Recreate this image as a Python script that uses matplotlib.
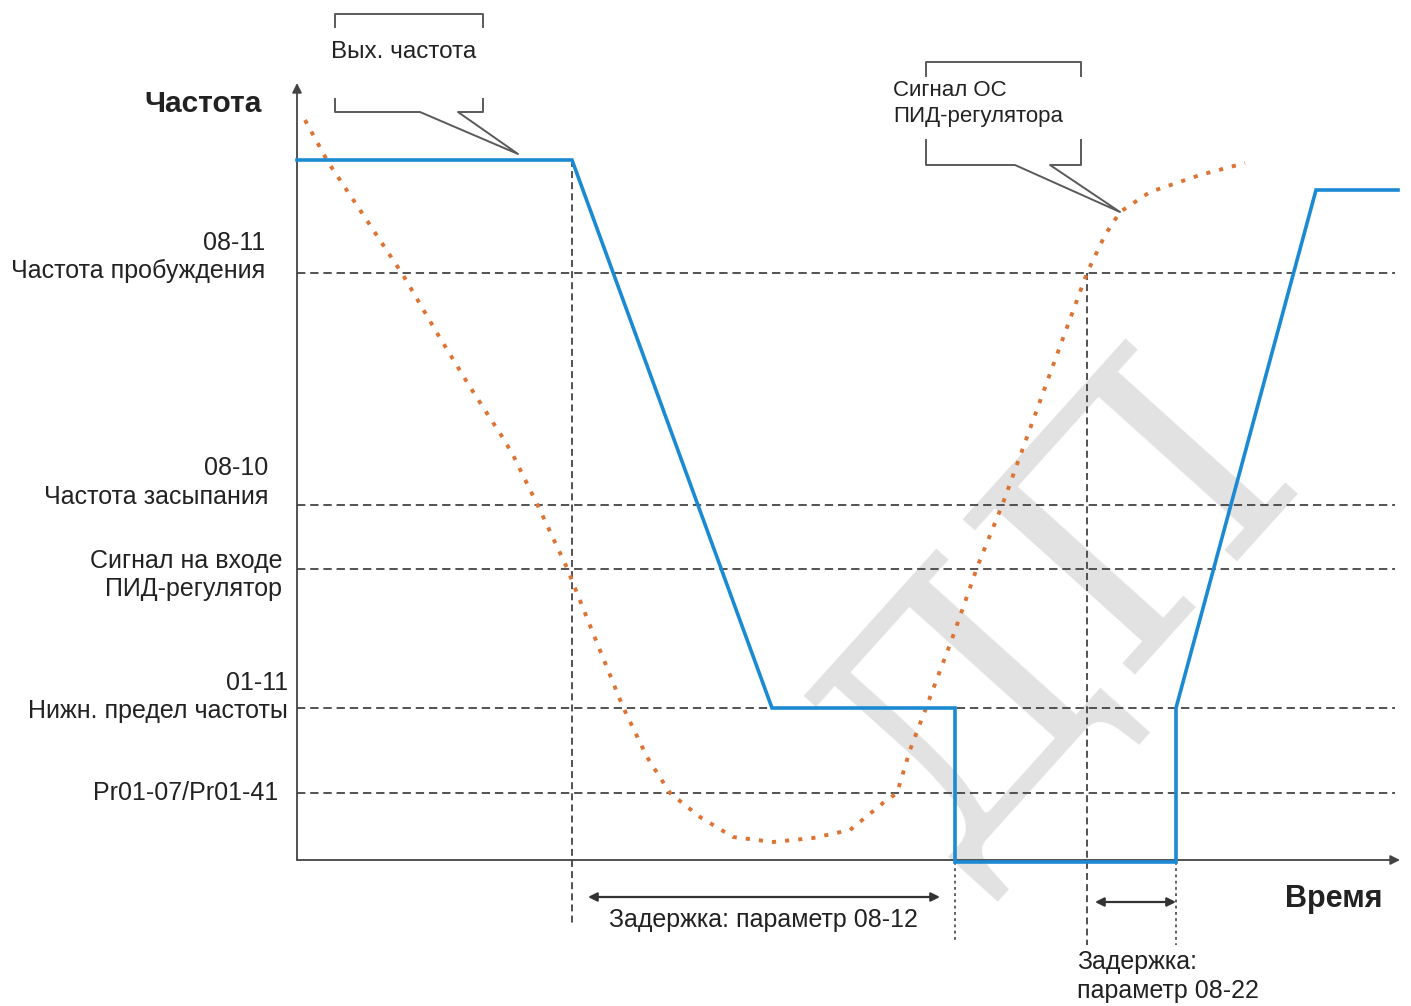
import matplotlib
matplotlib.use("Agg")
import matplotlib.pyplot as plt

plt.rcParams['font.family'] = ['Liberation Sans', 'DejaVu Sans']
plt.rcParams['lines.scale_dashes'] = False

# ---- data (schematic units: time -> x, frequency level -> y, y grows downward) ----
out_time = [297, 572, 772, 955, 955, 1176, 1176, 1316, 1398]
out_freq = [160, 160, 708, 708, 862, 862, 708, 190, 190]

pid_time = [305, 328, 362, 403, 437, 470, 503, 513, 540, 567, 597, 623, 647, 670,
            700, 733, 773, 813, 850, 883, 897, 910, 926, 952, 978, 1003, 1055,
            1087, 1105, 1120, 1150, 1200, 1245]
pid_freq = [120, 162, 213, 275, 333, 387, 438, 455, 510, 568, 643, 707, 757, 793,
            817, 837, 842, 838, 830, 803, 793, 750, 708, 639, 565, 503, 360,
            273, 235, 212, 192, 175, 163]

level_values = [273, 505, 569, 708, 793]
level_labels = [("08-11", "Частота пробуждения"),
                ("08-10", "Частота засыпания"),
                ("Сигнал на входе", "ПИД-регулятор"),
                ("01-11", "Нижн. предел частоты"),
                (None, "Pr01-07/Pr01-41")]

event_times = [572, 955, 1087, 1176]

W, H = 1411, 1006
fig = plt.figure(figsize=(W / 100, H / 100), dpi=100)
ax = fig.add_axes([0, 0, 1, 1])
ax.set_xlim(0, W)
ax.set_ylim(H, 0)
ax.axis('off')

AX0 = 297
AXY = 860
grey = '#444444'
txt = '#222222'
blue = '#1b8ad3'
orange = '#dc7435'

# watermark
ax.text(1060, 610, "ДП", fontsize=230, family='DejaVu Serif', color='#e2e2e2',
        rotation=48, ha='center', va='center', zorder=0)

# level dashed lines
for lv in level_values:
    ax.plot([AX0, 1395], [lv, lv], color=grey, lw=1.3, dashes=(6, 3.5), zorder=2)

# vertical event lines
ax.plot([event_times[0]] * 2, [out_freq[0], 925], color=grey, lw=1.3, dashes=(5, 3), zorder=2)
ax.plot([event_times[2]] * 2, [level_values[0], 945], color=grey, lw=1.3, dashes=(5, 3), zorder=2)
ax.plot([event_times[1]] * 2, [862, 940], color=grey, lw=1.2, dashes=(2, 2.5), zorder=2)
ax.plot([event_times[3]] * 2, [862, 945], color=grey, lw=1.2, dashes=(2, 2.5), zorder=2)

# axes with arrows
ax.annotate('', xy=(AX0, 83), xytext=(AX0, AXY), zorder=3,
            arrowprops=dict(arrowstyle='-|>', color='#444444', lw=1.3,
                            mutation_scale=14, shrinkA=0, shrinkB=0))
ax.annotate('', xy=(1400, AXY), xytext=(AX0, AXY), zorder=3,
            arrowprops=dict(arrowstyle='-|>', color='#444444', lw=1.3,
                            mutation_scale=14, shrinkA=0, shrinkB=0))

# PID feedback signal (dotted orange)
ax.plot(pid_time, pid_freq, color=orange, lw=2.8, dashes=(3, 6.5),
        solid_joinstyle='round', zorder=4)

# output frequency (blue)
ax.plot(out_time, out_freq, color=blue, lw=2.6, solid_joinstyle='miter', zorder=5)

# level labels
fs = 18
label_right = [265, 268, 282, 288, 278]
label_ys = [(243, 271), (468, 497), (561, 589), (683, 711), (None, 793)]
for (top, bot), (yt, yb), xr in zip(level_labels, label_ys, label_right):
    ax.text(xr, yb, bot, ha='right', va='center', fontsize=fs, color=txt)
    if top is not None:
        ax.text(xr, yt, top, ha='right', va='center', fontsize=fs, color=txt)

ax.text(262, 104, "Частота", ha='right', va='center', fontsize=21.5, fontweight='bold', color=txt)
ax.text(1334, 899, "Время", ha='center', va='center', fontsize=22, fontweight='bold', color=txt)

# delay arrows
ax.annotate('', xy=(940, 897), xytext=(588, 897),
            arrowprops=dict(arrowstyle='<|-|>', color='#333333', lw=1.6,
                            mutation_scale=13, shrinkA=0, shrinkB=0))
ax.text(763, 920, "Задержка: параметр 08-12", ha='center', va='center', fontsize=fs, color=txt)
ax.annotate('', xy=(1176, 902), xytext=(1095, 902),
            arrowprops=dict(arrowstyle='<|-|>', color='#333333', lw=1.6,
                            mutation_scale=13, shrinkA=0, shrinkB=0))
ax.text(1077, 962, "Задержка:", ha='left', va='center', fontsize=fs, color=txt)
ax.text(1077, 991, "параметр 08-22", ha='left', va='center', fontsize=fs, color=txt)

# callouts
cc = '#5a5a5a'
ax.plot([335, 335, 483, 483], [27, 14, 14, 27], color=cc, lw=1.4)
ax.plot([335, 335, 420, 518, 458, 483, 483], [99, 112, 112, 154, 112, 112, 99], color=cc, lw=1.4)
ax.text(404, 52, "Вых. частота", ha='center', va='center', fontsize=fs - 0.5, color=txt)

ax.plot([926, 926, 1081, 1081], [76, 62, 62, 76], color=cc, lw=1.4)
ax.plot([926, 926, 1015, 1120, 1050, 1081, 1081], [140, 165, 165, 212, 165, 165, 140], color=cc, lw=1.4)
ax.text(893, 90, "Сигнал ОС", ha='left', va='center', fontsize=16, color=txt)
ax.text(893, 116, "ПИД-регулятора", ha='left', va='center', fontsize=16, color=txt)

fig.savefig("out.png", dpi=100, facecolor='white')
